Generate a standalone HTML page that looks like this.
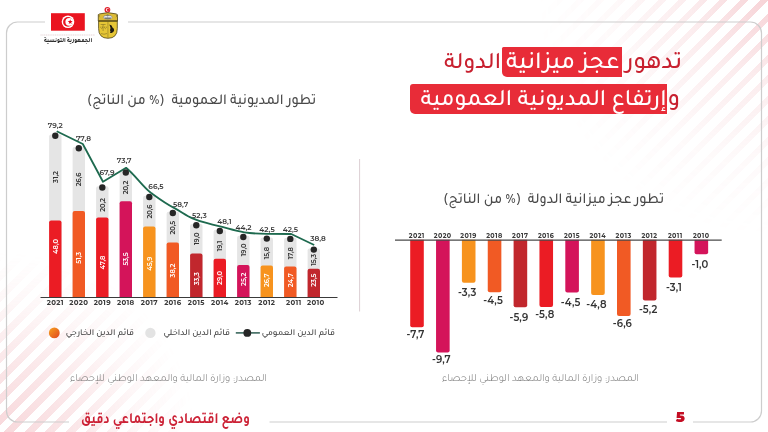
<!DOCTYPE html>
<html lang="ar">
<head>
<meta charset="utf-8">
<title>تدهور عجز ميزانية الدولة وإرتفاع المديونية العمومية</title>
<style>
html,body{margin:0;padding:0;}
body{width:768px;height:432px;overflow:hidden;position:relative;background:#ffffff;
  font-family:"Tajawal","DejaVu Sans","Liberation Sans",sans-serif;}
.abs{position:absolute;white-space:nowrap;}
.stripes-tr{position:absolute;left:0;top:0;width:768px;height:432px;
  background:repeating-linear-gradient(-45deg,rgba(255,255,255,0) 0px,rgba(255,255,255,0) 0.54px,rgba(228,110,122,0.3) 0.54px,rgba(228,110,122,0.3) 6.04px,rgba(255,255,255,0) 6.04px,rgba(255,255,255,0) 14.5px);
  -webkit-mask-image:radial-gradient(ellipse 240px 245px at 768px 0px,#000 0%,rgba(0,0,0,0.42) 32%,rgba(0,0,0,0.12) 66%,rgba(0,0,0,0) 96%);
  mask-image:radial-gradient(ellipse 240px 245px at 768px 0px,#000 0%,rgba(0,0,0,0.42) 32%,rgba(0,0,0,0.12) 66%,rgba(0,0,0,0) 96%);}
.stripes-bl{position:absolute;left:0;top:0;width:768px;height:432px;
  background:repeating-linear-gradient(-45deg,rgba(230,115,126,0.28) 0px,rgba(230,115,126,0.28) 3.96px,rgba(255,255,255,0) 3.96px,rgba(255,255,255,0) 11.46px,rgba(230,115,126,0.28) 11.46px,rgba(230,115,126,0.28) 14.5px);
  -webkit-mask-image:radial-gradient(ellipse 195px 180px at 0px 432px,#000 0%,rgba(0,0,0,0.6) 40%,rgba(0,0,0,0.2) 72%,rgba(0,0,0,0) 100%);
  mask-image:radial-gradient(ellipse 195px 180px at 0px 432px,#000 0%,rgba(0,0,0,0.6) 40%,rgba(0,0,0,0.2) 72%,rgba(0,0,0,0) 100%);}
svg{position:absolute;left:0;top:0;overflow:visible;}
.t1{font-family:"Tajawal","DejaVu Sans",sans-serif;font-weight:500;font-size:24.5px;line-height:30px;direction:rtl;}
.red{color:#c8202f;}
.box{background:#e82c38;color:#ffffff;}
.sub{font-family:"Tajawal","DejaVu Sans",sans-serif;font-weight:500;font-size:15.2px;color:#4a4a4a;direction:rtl;line-height:16px;transform-origin:100% 0;transform:scaleX(0.935);}
.src{font-family:"Tajawal","DejaVu Sans",sans-serif;font-weight:300;font-size:10.9px;color:#737373;direction:rtl;line-height:12px;}
.leg{font-family:"Tajawal","DejaVu Sans",sans-serif;font-weight:500;font-size:9.1px;color:#444444;direction:rtl;line-height:10px;}
.foot{font-family:"Tajawal","DejaVu Sans",sans-serif;font-weight:700;font-size:15.5px;color:#cc2236;direction:rtl;line-height:16px;transform-origin:100% 0;transform:scaleX(0.832);}
text{font-family:"Montserrat","Liberation Sans",sans-serif;}
.rv{font-size:6.6px;font-weight:600;text-anchor:middle;}
.rv.d{fill:#333333;}
.rv.w{fill:#ffffff;}
.tl{font-size:7.3px;font-weight:600;letter-spacing:0px;fill:#3a3a3a;text-anchor:middle;}
.yl{font-size:7px;font-weight:700;letter-spacing:0.3px;fill:#3a3a3a;text-anchor:middle;}
.yl2{font-size:6.4px;font-weight:700;letter-spacing:0.4px;fill:#3a3a3a;text-anchor:middle;}
.nl{font-size:10px;font-weight:600;letter-spacing:0.1px;fill:#333333;text-anchor:middle;}
</style>
</head>
<body>
<div class="stripes-tr"></div>
<div class="stripes-bl"></div>

<!-- frame -->
<svg width="768" height="432" viewBox="0 0 768 432">
  <path d="M45,22 H17.5 A11,11 0 0 0 6.5,33 V411 A11,11 0 0 0 17.5,422 H69 M269.5,422 H667 M693,422 H750.5 A11,11 0 0 0 761.5,411 V33 A11,11 0 0 0 750.5,22 H128" fill="none" stroke="#cdcdcd" stroke-width="1.2"/>
  <line x1="359.6" y1="159" x2="359.6" y2="311.5" stroke="#dccfd3" stroke-width="1"/>
</svg>

<!-- logo -->
<svg width="768" height="432" viewBox="0 0 768 432">
  <rect x="51" y="13.2" width="33.8" height="17.5" fill="#ea1420"/>
  <circle cx="68" cy="21.8" r="6.3" fill="#ffffff"/>
  <circle cx="68" cy="21.9" r="4.9" fill="#ea1420"/>
  <circle cx="69.3" cy="21.8" r="3.9" fill="#ffffff"/>
  <polygon points="70.2,19.3 70.8,21.1 72.7,21.1 71.2,22.2 71.7,24 70.2,22.9 68.7,24 69.2,22.2 67.7,21.1 69.6,21.1" fill="#e70013"/>
  <line x1="40.5" y1="35" x2="95" y2="35" stroke="#e3cfd1" stroke-width="0.9" stroke-dasharray="1.2 0.6"/>
  <!-- coat of arms -->
  <circle cx="107.4" cy="9.8" r="2.9" fill="#e0202c"/>
  <circle cx="107.6" cy="9.8" r="1.7" fill="#ffffff"/>
  <circle cx="108.1" cy="9.8" r="1.3" fill="#e0202c"/>
  <path d="M98.3,21 V16.2 Q97.6,14.2 99.6,13.9 Q107.8,11.4 116.1,13.9 Q118.1,14.2 117.5,16.2 V21 Z" fill="#dcbb36" stroke="#4f4417" stroke-width="0.8"/>
  <path d="M99.3,15.2 q-0.9,1.2 0.3,2 M116.4,15.2 q0.9,1.2 -0.3,2" fill="none" stroke="#4f4417" stroke-width="0.5"/>
  <ellipse cx="107.8" cy="17.2" rx="4.4" ry="2" fill="#e4e8f1" stroke="#5a5a4a" stroke-width="0.45"/>
  <path d="M104.5,17.8 h6.6 l-1,1 h-4.6z M107.6,14.6 v3.2 M106,15.6 l1.6,-0.8 l1.6,0.8" fill="#6b6b60" stroke="#6b6b60" stroke-width="0.35"/>
  <path d="M98.6,21 H117.3 V28.5 Q117.3,38.2 107.95,38.3 Q98.6,38.2 98.6,28.5 Z" fill="#e6c636" stroke="#4f4417" stroke-width="0.8"/>
  <line x1="98.6" y1="21.2" x2="117.3" y2="21.2" stroke="#4f4417" stroke-width="0.8"/>
  <line x1="107.95" y1="21.5" x2="107.95" y2="37.8" stroke="#6b5d1c" stroke-width="0.45"/>
  <path d="M109.4,24.6 q2.8,0.5 3.1,3 q1.9,0.9 1.6,2.9 q-0.4,1.9 -2.5,2.6 l-1.6,-0.2 q1,-1.4 0,-2.7 q1.1,-2.3 -0.6,-5.6z" fill="#1f1a10"/>
  <path d="M100.6,24.5 l5,0 M103.1,24.5 v6.5 M100.9,26.5 q-0.6,1.6 0.8,2.2 q1.4,-0.6 0.8,-2.2 M104.6,26.5 q-0.6,1.6 0.8,2.2 q1.4,-0.6 0.8,-2.2 M101,33.5 q3,1.5 6,0" fill="none" stroke="#6e5e20" stroke-width="0.5"/>
</svg>
<div id="rep" class="abs" style="left:44px;top:36.6px;font-family:'Tajawal','DejaVu Sans',sans-serif;font-weight:800;font-size:6.4px;line-height:8px;color:#2b2b2b;direction:rtl;transform-origin:0 0;transform:scaleX(0.84);">الجمهورية التونسية</div>

<!-- title -->
<div class="abs t1 box" style="left:502.3px;top:46.8px;width:119.7px;height:30.7px;border-radius:1.5px 0 0 5px;"></div>
<div class="abs t1 box" style="left:410.4px;top:83.6px;width:257px;height:30.1px;border-radius:3px 0 0 5px;"></div>
<div id="ti1" class="abs t1 red" style="right:86px;top:49.5px;">تدهور</div>
<div id="ti2" class="abs t1" style="right:148.5px;top:49.5px;color:#fff;">عجز ميزانية</div>
<div id="ti3" class="abs t1 red" style="right:267px;top:50px;font-size:23.5px;">الدولة</div>
<div id="ti4" class="abs t1" style="right:101.5px;top:86.5px;color:#fff;font-size:23.5px;">إرتفاع المديونية العمومية</div>
<div id="ti5" class="abs t1 red" style="right:88px;top:86.5px;">و</div>

<!-- chart titles -->
<div id="sub1" class="abs sub" style="right:452px;top:93.5px;">تطور المديونية العمومية&nbsp; (% من الناتج)</div>
<div id="sub2" class="abs sub" style="right:103.5px;top:192.5px;">تطور عجز ميزانية الدولة&nbsp; (% من الناتج)</div>

<!-- charts -->
<svg width="768" height="432" viewBox="0 0 768 432">
<path d="M49.10,297.00V136.60Q49.10,134.60 51.10,134.60H59.50Q61.50,134.60 61.50,136.60V297.00Z" fill="#e5e5e5"/>
<path d="M49.10,297.00V222.40Q49.10,220.40 51.10,220.40H59.50Q61.50,220.40 61.50,222.40V297.00Z" fill="#eb1c24"/>
<path d="M72.60,297.00V149.10Q72.60,147.10 74.60,147.10H83.00Q85.00,147.10 85.00,149.10V297.00Z" fill="#e5e5e5"/>
<path d="M72.60,297.00V213.10Q72.60,211.10 74.60,211.10H83.00Q85.00,211.10 85.00,213.10V297.00Z" fill="#f15a24"/>
<path d="M96.10,297.00V188.30Q96.10,186.30 98.10,186.30H106.50Q108.50,186.30 108.50,188.30V297.00Z" fill="#e5e5e5"/>
<path d="M96.10,297.00V219.40Q96.10,217.40 98.10,217.40H106.50Q108.50,217.40 108.50,219.40V297.00Z" fill="#eb1c24"/>
<path d="M119.60,297.00V173.30Q119.60,171.30 121.60,171.30H130.00Q132.00,171.30 132.00,173.30V297.00Z" fill="#e5e5e5"/>
<path d="M119.60,297.00V203.20Q119.60,201.20 121.60,201.20H130.00Q132.00,201.20 132.00,203.20V297.00Z" fill="#d4145a"/>
<path d="M143.10,297.00V197.80Q143.10,195.80 145.10,195.80H153.50Q155.50,195.80 155.50,197.80V297.00Z" fill="#e5e5e5"/>
<path d="M143.10,297.00V228.60Q143.10,226.60 145.10,226.60H153.50Q155.50,226.60 155.50,228.60V297.00Z" fill="#f7931e"/>
<path d="M166.60,297.00V213.80Q166.60,211.80 168.60,211.80H177.00Q179.00,211.80 179.00,213.80V297.00Z" fill="#e5e5e5"/>
<path d="M166.60,297.00V244.50Q166.60,242.50 168.60,242.50H177.00Q179.00,242.50 179.00,244.50V297.00Z" fill="#f15a24"/>
<path d="M190.10,297.00V226.00Q190.10,224.00 192.10,224.00H200.50Q202.50,224.00 202.50,226.00V297.00Z" fill="#e5e5e5"/>
<path d="M190.10,297.00V255.60Q190.10,253.60 192.10,253.60H200.50Q202.50,253.60 202.50,255.60V297.00Z" fill="#c1272d"/>
<path d="M213.60,297.00V231.80Q213.60,229.80 215.60,229.80H224.00Q226.00,229.80 226.00,231.80V297.00Z" fill="#e5e5e5"/>
<path d="M213.60,297.00V260.70Q213.60,258.70 215.60,258.70H224.00Q226.00,258.70 226.00,260.70V297.00Z" fill="#eb1c24"/>
<path d="M237.10,297.00V237.80Q237.10,235.80 239.10,235.80H247.50Q249.50,235.80 249.50,237.80V297.00Z" fill="#e5e5e5"/>
<path d="M237.10,297.00V266.90Q237.10,264.90 239.10,264.90H247.50Q249.50,264.90 249.50,266.90V297.00Z" fill="#d4145a"/>
<path d="M260.60,297.00V239.40Q260.60,237.40 262.60,237.40H271.00Q273.00,237.40 273.00,239.40V297.00Z" fill="#e5e5e5"/>
<path d="M260.60,297.00V267.40Q260.60,265.40 262.60,265.40H271.00Q273.00,265.40 273.00,267.40V297.00Z" fill="#f7931e"/>
<path d="M284.10,297.00V239.70Q284.10,237.70 286.10,237.70H294.50Q296.50,237.70 296.50,239.70V297.00Z" fill="#e5e5e5"/>
<path d="M284.10,297.00V268.50Q284.10,266.50 286.10,266.50H294.50Q296.50,266.50 296.50,268.50V297.00Z" fill="#f15a24"/>
<path d="M307.60,297.00V250.40Q307.60,248.40 309.60,248.40H318.00Q320.00,248.40 320.00,250.40V297.00Z" fill="#e5e5e5"/>
<path d="M307.60,297.00V270.70Q307.60,268.70 309.60,268.70H318.00Q320.00,268.70 320.00,270.70V297.00Z" fill="#c1272d"/>
<text class="rv d" transform="translate(57.70,177.00) rotate(-90)">31,2</text>
<text class="rv w" transform="translate(57.70,246.50) rotate(-90)">48,0</text>
<text class="rv d" transform="translate(81.20,179.40) rotate(-90)">26,6</text>
<text class="rv w" transform="translate(81.20,257.90) rotate(-90)">51,3</text>
<text class="rv d" transform="translate(104.70,204.90) rotate(-90)">20,2</text>
<text class="rv w" transform="translate(104.70,262.50) rotate(-90)">47,8</text>
<text class="rv d" transform="translate(128.20,187.50) rotate(-90)">20,2</text>
<text class="rv w" transform="translate(128.20,259.00) rotate(-90)">53,5</text>
<text class="rv d" transform="translate(151.70,211.60) rotate(-90)">20,6</text>
<text class="rv w" transform="translate(151.70,263.70) rotate(-90)">45,9</text>
<text class="rv d" transform="translate(175.20,227.70) rotate(-90)">20,5</text>
<text class="rv w" transform="translate(175.20,270.60) rotate(-90)">38,2</text>
<text class="rv d" transform="translate(198.70,238.80) rotate(-90)">19,0</text>
<text class="rv w" transform="translate(198.70,278.70) rotate(-90)">33,3</text>
<text class="rv d" transform="translate(222.20,246.00) rotate(-90)">19,1</text>
<text class="rv w" transform="translate(222.20,278.00) rotate(-90)">29,0</text>
<text class="rv d" transform="translate(245.70,249.90) rotate(-90)">19,0</text>
<text class="rv w" transform="translate(245.70,279.30) rotate(-90)">25,2</text>
<text class="rv d" transform="translate(269.20,253.20) rotate(-90)">15,8</text>
<text class="rv w" transform="translate(269.20,280.20) rotate(-90)">26,7</text>
<text class="rv d" transform="translate(292.70,253.20) rotate(-90)">17,8</text>
<text class="rv w" transform="translate(292.70,280.20) rotate(-90)">24,7</text>
<text class="rv d" transform="translate(316.20,259.80) rotate(-90)">15,3</text>
<text class="rv w" transform="translate(316.20,280.20) rotate(-90)">23,5</text>
<line x1="40.5" y1="297.5" x2="337.5" y2="297.5" stroke="#3a3a3a" stroke-width="1"/>
<path d="M56.7,131.3L82.8,144L103,181.7L126.1,167.8C136,176 142,186 150.8,192.8C158,198 166,204 174,207.9C181,211.5 186,215.5 192.5,218.3C197,220.2 201,221.6 206.4,222.9C211,224.2 215,225.2 220,226.4C228,228.4 236,231 244.3,232.4C252,233.6 259,233.7 267,233.8L291.2,234L314.2,245" fill="none" stroke="#1e6a4f" stroke-width="1.8" stroke-linejoin="round"/>
<circle cx="55.30" cy="135.80" r="3.2" fill="#262626"/>
<circle cx="78.80" cy="148.30" r="3.2" fill="#262626"/>
<circle cx="102.30" cy="187.50" r="3.2" fill="#262626"/>
<circle cx="125.80" cy="172.50" r="3.2" fill="#262626"/>
<circle cx="149.30" cy="197.00" r="3.2" fill="#262626"/>
<circle cx="172.80" cy="213.00" r="3.2" fill="#262626"/>
<circle cx="196.30" cy="225.20" r="3.2" fill="#262626"/>
<circle cx="219.80" cy="231.00" r="3.2" fill="#262626"/>
<circle cx="243.30" cy="237.00" r="3.2" fill="#262626"/>
<circle cx="266.80" cy="238.60" r="3.2" fill="#262626"/>
<circle cx="290.30" cy="238.90" r="3.2" fill="#262626"/>
<circle cx="313.80" cy="249.60" r="3.2" fill="#262626"/>
<text class="tl" x="55.30" y="127.80">79,2</text>
<text class="yl" x="55.30" y="305.40">2021</text>
<text class="tl" x="83.50" y="141.20">77,8</text>
<text class="yl" x="78.80" y="305.40">2020</text>
<text class="tl" x="107.00" y="174.60">67,9</text>
<text class="yl" x="102.30" y="305.40">2019</text>
<text class="tl" x="124.20" y="163.20">73,7</text>
<text class="yl" x="125.80" y="305.40">2018</text>
<text class="tl" x="156.00" y="189.20">66,5</text>
<text class="yl" x="149.30" y="305.40">2017</text>
<text class="tl" x="180.50" y="206.60">58,7</text>
<text class="yl" x="172.80" y="305.40">2016</text>
<text class="tl" x="199.40" y="218.10">52,3</text>
<text class="yl" x="196.30" y="305.40">2015</text>
<text class="tl" x="224.40" y="224.40">48,1</text>
<text class="yl" x="219.80" y="305.40">2014</text>
<text class="tl" x="243.50" y="229.50">44,2</text>
<text class="yl" x="243.30" y="305.40">2013</text>
<text class="tl" x="267.00" y="231.50">42,5</text>
<text class="yl" x="266.80" y="305.40">2012</text>
<text class="tl" x="290.40" y="231.50">42,5</text>
<text class="yl" x="293.80" y="305.40">2011</text>
<text class="tl" x="318.00" y="241.20">38,8</text>
<text class="yl" x="315.80" y="305.40">2010</text>
<path d="M410.20,239.70V325.30Q410.20,327.30 412.20,327.30H421.80Q423.80,327.30 423.80,325.30V239.70Z" fill="#eb1c24"/>
<path d="M436.05,239.70V350.50Q436.05,352.50 438.05,352.50H447.65Q449.65,352.50 449.65,350.50V239.70Z" fill="#d4145a"/>
<path d="M461.90,239.70V280.80Q461.90,282.80 463.90,282.80H473.50Q475.50,282.80 475.50,280.80V239.70Z" fill="#f7931e"/>
<path d="M487.75,239.70V290.20Q487.75,292.20 489.75,292.20H499.35Q501.35,292.20 501.35,290.20V239.70Z" fill="#f15a24"/>
<path d="M513.60,239.70V305.30Q513.60,307.30 515.60,307.30H525.20Q527.20,307.30 527.20,305.30V239.70Z" fill="#c1272d"/>
<path d="M539.45,239.70V304.90Q539.45,306.90 541.45,306.90H551.05Q553.05,306.90 553.05,304.90V239.70Z" fill="#eb1c24"/>
<path d="M565.30,239.70V290.60Q565.30,292.60 567.30,292.60H576.90Q578.90,292.60 578.90,290.60V239.70Z" fill="#d4145a"/>
<path d="M591.15,239.70V293.00Q591.15,295.00 593.15,295.00H602.75Q604.75,295.00 604.75,293.00V239.70Z" fill="#f7931e"/>
<path d="M617.00,239.70V314.10Q617.00,316.10 619.00,316.10H628.60Q630.60,316.10 630.60,314.10V239.70Z" fill="#f15a24"/>
<path d="M642.85,239.70V298.50Q642.85,300.50 644.85,300.50H654.45Q656.45,300.50 656.45,298.50V239.70Z" fill="#c1272d"/>
<path d="M668.70,239.70V275.50Q668.70,277.50 670.70,277.50H680.30Q682.30,277.50 682.30,275.50V239.70Z" fill="#eb1c24"/>
<path d="M694.55,239.70V252.30Q694.55,254.30 696.55,254.30H706.15Q708.15,254.30 708.15,252.30V239.70Z" fill="#d4145a"/>
<line x1="395" y1="240.10" x2="721.7" y2="240.10" stroke="#4a4a4a" stroke-width="1.1"/>
<text class="yl2" x="416.80" y="237.9">2021</text>
<text class="nl" x="415.50" y="337.80">-7,7</text>
<text class="yl2" x="442.65" y="237.9">2020</text>
<text class="nl" x="441.35" y="362.80">-9,7</text>
<text class="yl2" x="468.50" y="237.9">2019</text>
<text class="nl" x="467.20" y="296.10">-3,3</text>
<text class="yl2" x="494.35" y="237.9">2018</text>
<text class="nl" x="493.05" y="304.45">-4,5</text>
<text class="yl2" x="520.20" y="237.9">2017</text>
<text class="nl" x="518.90" y="320.70">-5,9</text>
<text class="yl2" x="546.05" y="237.9">2016</text>
<text class="nl" x="544.75" y="317.70">-5,8</text>
<text class="yl2" x="571.90" y="237.9">2015</text>
<text class="nl" x="570.60" y="306.10">-4,5</text>
<text class="yl2" x="597.75" y="237.9">2014</text>
<text class="nl" x="596.45" y="307.80">-4,8</text>
<text class="yl2" x="623.60" y="237.9">2013</text>
<text class="nl" x="622.30" y="327.10">-6,6</text>
<text class="yl2" x="649.45" y="237.9">2012</text>
<text class="nl" x="648.15" y="312.80">-5,2</text>
<text class="yl2" x="675.30" y="237.9">2011</text>
<text class="nl" x="674.00" y="291.00">-3,1</text>
<text class="yl2" x="701.15" y="237.9">2010</text>
<text class="nl" x="699.85" y="267.80">-1,0</text>
</svg>

<!-- legend -->
<svg width="768" height="432" viewBox="0 0 768 432">
  <defs>
    <linearGradient id="og" x1="0" y1="0" x2="1" y2="1">
      <stop offset="0" stop-color="#f7a21e"/>
      <stop offset="1" stop-color="#e0451f"/>
    </linearGradient>
  </defs>
  <circle cx="54.3" cy="332.9" r="5.4" fill="url(#og)"/>
  <circle cx="150.4" cy="332.9" r="5.2" fill="#e3e3e3"/>
  <line x1="235.8" y1="332.9" x2="259.9" y2="332.9" stroke="#2d5e52" stroke-width="1.5"/>
  <circle cx="247.3" cy="332.9" r="3.9" fill="#262626"/>
</svg>
<div id="leg1" class="abs leg" style="right:634px;top:329px;">قائم الدين الخارجي</div>
<div id="leg2" class="abs leg" style="right:538px;top:329px;">قائم الدين الداخلي</div>
<div id="leg3" class="abs leg" style="right:433px;top:329px;">قائم الدين العمومي</div>

<!-- sources -->
<div id="src1" class="abs src" style="right:501px;top:374.2px;">المصدر: وزارة المالية والمعهد الوطني للإحصاء</div>
<div id="src2" class="abs src" style="right:129px;top:374.2px;">المصدر: وزارة المالية والمعهد الوطني للإحصاء</div>

<!-- footer -->
<div id="foot" class="abs foot" style="right:518px;top:412.8px;">وضع اقتصادي واجتماعي دقيق</div>
<div id="pg5" class="abs" style="left:675.8px;top:409.8px;font-family:'Montserrat','Liberation Sans',sans-serif;font-weight:900;font-size:14.8px;line-height:14px;color:#c40d23;">5</div>
</body>
</html>
